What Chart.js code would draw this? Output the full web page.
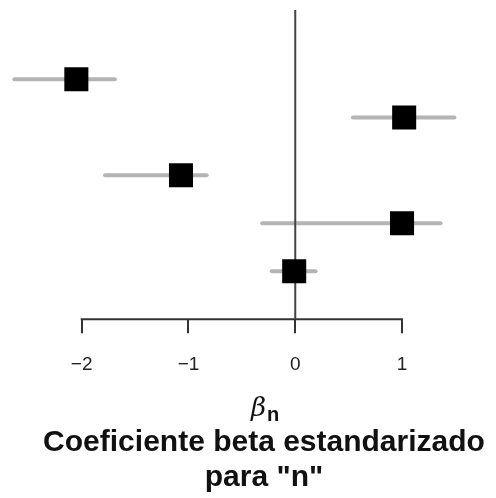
<!DOCTYPE html>
<html>
<head>
<meta charset="utf-8">
<script src="https://cdn.jsdelivr.net/npm/chart.js@4"></script>
<style>
  body { margin: 0; background: #fff; }
</style>
</head>
<body>
<canvas id="chart" width="496" height="498"></canvas>
<script>
// rows from top to bottom
const rows = [5, 4.2, 3.0, 2.0, 1.0];
const beta = [-2.05, 1.02, -1.07, 1.00, -0.01];
const ciLow = [-2.63, 0.54, -1.78, -0.31, -0.22];
const ciHigh = [-1.69, 1.49, -0.83, 1.36, 0.19];
const tickVals = [-2, -1, 0, 1];

const font = "'Liberation Sans', Arial, sans-serif";

const ciSets = rows.map((r, i) => ({
    type: "scatter",
    data: [{ x: ciLow[i], y: r }, { x: ciHigh[i], y: r }],
    showLine: true,
    borderColor: "#b4b4b4",
    borderWidth: 4,
    borderCapStyle: "round",
    pointRadius: 0,
    order: 3
}));

const labels = {
    id: "labels",
    beforeDatasetsDraw(chart) {
        const ctx = chart.ctx;
        const x = chart.scales.x;
        const bottom = chart.chartArea.bottom;
        ctx.save();
        ctx.strokeStyle = "#333";
        ctx.lineWidth = 2;
        ctx.beginPath();
        ctx.moveTo(x.getPixelForValue(tickVals[0]) - 1, bottom);
        ctx.lineTo(x.getPixelForValue(tickVals[tickVals.length - 1]) + 1, bottom);
        ctx.stroke();
        ctx.restore();
    },
    afterDraw(chart) {
        const ctx = chart.ctx;
        ctx.save();
        ctx.fillStyle = "#111";
        ctx.textBaseline = "alphabetic";
        // beta sub n
        ctx.font = "italic 26px 'DejaVu Serif', serif";
        const bw = ctx.measureText("β").width;
        ctx.font = "bold 20px " + font;
        const nw = ctx.measureText("n").width;
        const cx = 265;
        let sx = cx - (bw + nw + 1) / 2;
        ctx.textAlign = "left";
        ctx.font = "italic 26px 'DejaVu Serif', serif";
        ctx.fillText("β", sx, 416);
        ctx.font = "bold 20px " + font;
        ctx.fillText("n", sx + bw + 1, 421);
        // title
        ctx.textAlign = "center";
        ctx.textBaseline = "middle";
        ctx.font = "bold 30px " + font;
        ctx.fillText("Coeficiente beta estandarizado", 264, 443);
        ctx.fillText('para "n"', 264, 478);
        ctx.restore();
    }
};

new Chart(document.getElementById("chart"), {
    type: "scatter",
    data: {
        datasets: [
            {
                data: beta.map((b, i) => ({ x: b, y: rows[i] })),
                pointStyle: "rect",
                pointRadius: 17,
                pointHoverRadius: 17,
                backgroundColor: "#000",
                borderWidth: 0,
                order: 1
            },
            {
                // reference line at zero
                type: "scatter",
                data: [{ x: 0, y: 0 }, { x: 0, y: 6.44 }],
                showLine: true,
                borderColor: "#444",
                borderWidth: 2,
                pointRadius: 0,
                order: 2
            },
            ...ciSets
        ]
    },
    options: {
        responsive: false,
        animation: false,
        devicePixelRatio: 1,
        layout: { autoPadding: false, padding: { left: 0, right: 0, top: 0, bottom: 102 } },
        plugins: { legend: { display: false }, tooltip: { enabled: false } },
        scales: {
            x: {
                type: "linear",
                min: -2.765,
                max: 1.88,
                afterBuildTicks: s => { s.ticks = tickVals.map(v => ({ value: v })); },
                border: { display: false },
                grid: { drawOnChartArea: false, tickLength: 14, color: "#333", lineWidth: 2 },
                ticks: {
                    padding: 20,
                    color: "#222",
                    font: { family: font, size: 19 },
                    callback: v => String(v).replace("-", "\u2212")
                }
            },
            y: { type: "linear", min: 0, max: 6.65, display: false }
        }
    },
    plugins: [labels]
});
</script>
</body>
</html>
